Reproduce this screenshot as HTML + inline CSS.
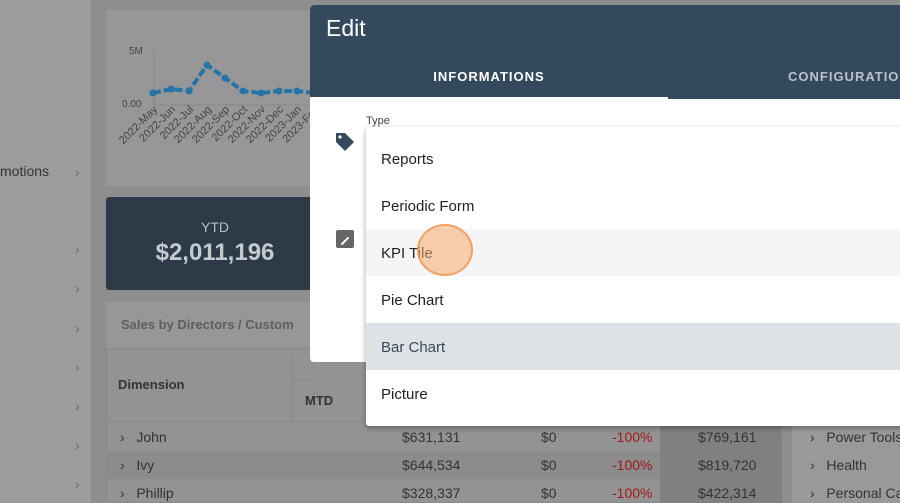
<!DOCTYPE html>
<html><head><style>
*{margin:0;padding:0;box-sizing:border-box}
body{width:900px;height:503px;overflow:hidden;position:relative;background:#8e8e8e;font-family:"Liberation Sans",sans-serif}
.a{position:absolute}
.side{left:0;top:0;width:91px;height:503px;background:#9b9c9e}
.chev{color:#6d6d6d;font-size:14px}
.t{color:#333;font-size:14px}
</style></head><body>
<div class="a side"></div>
<div class="a t" style="left:0;top:163px;color:#333;font-size:14px">motions</div>
<div class="a chev" style="left:75px;top:164px">›</div>
<div class="a chev" style="left:75px;top:241px">›</div>
<div class="a chev" style="left:75px;top:280px">›</div>
<div class="a chev" style="left:75px;top:320px">›</div>
<div class="a chev" style="left:75px;top:359px">›</div>
<div class="a chev" style="left:75px;top:398px">›</div>
<div class="a chev" style="left:75px;top:437px">›</div>
<div class="a chev" style="left:75px;top:476px">›</div>
<!-- chart card -->
<div class="a" style="left:106px;top:10px;width:220px;height:176px;background:#979797"></div>
<svg class="a" style="left:106px;top:10px" width="210" height="150">
<text x="23" y="44" font-size="10" fill="#444" font-family="Liberation Sans">5M</text>
<text x="16" y="97" font-size="10" fill="#444" font-family="Liberation Sans">0.00</text>
<line x1="48" y1="40" x2="48" y2="95" stroke="#888"/>
<line x1="48" y1="95" x2="210" y2="95" stroke="#888"/>
<polyline points="47,83 65,79 83,81 101,55 119,68 137,81 155,83 173,81 191,81 209,83" fill="none" stroke="#2474a8" stroke-width="4" stroke-dasharray="8,3"/>
<g fill="#2474a8"><circle cx="47" cy="83" r="3.5"/><circle cx="65" cy="79" r="3.5"/><circle cx="83" cy="81" r="3.5"/><circle cx="101" cy="55" r="3.5"/><circle cx="119" cy="68" r="3.5"/><circle cx="137" cy="81" r="3.5"/><circle cx="155" cy="83" r="3.5"/><circle cx="173" cy="81" r="3.5"/><circle cx="191" cy="81" r="3.5"/></g>
<g font-size="11" fill="#444" font-family="Liberation Sans" text-anchor="end">
<text transform="translate(52,100) rotate(-45)">2022-May</text>
<text transform="translate(70,100) rotate(-45)">2022-Jun</text>
<text transform="translate(88,100) rotate(-45)">2022-Jul</text>
<text transform="translate(106,100) rotate(-45)">2022-Aug</text>
<text transform="translate(124,100) rotate(-45)">2022-Sep</text>
<text transform="translate(142,100) rotate(-45)">2022-Oct</text>
<text transform="translate(160,100) rotate(-45)">2022-Nov</text>
<text transform="translate(178,100) rotate(-45)">2022-Dec</text>
<text transform="translate(196,100) rotate(-45)">2023-Jan</text>
<text transform="translate(214,100) rotate(-45)">2023-Feb</text>
</g></svg>
<!-- KPI -->
<div class="a" style="left:106px;top:197px;width:220px;height:93px;background:#2d3a48;border-radius:3px"></div>
<div class="a" style="left:106px;top:219px;width:218px;text-align:center;color:#b8bec4;font-size:14px">YTD</div>
<div class="a" style="left:106px;top:239px;width:218px;text-align:center;color:#c5cacf;font-size:24px;font-weight:bold">$2,011,196</div>
<!-- sales card -->
<div class="a" style="left:106px;top:302px;width:220px;height:46px;background:#979797"></div>
<div class="a" style="left:121px;top:317px;color:#5e5e5e;font-size:13px;font-weight:bold;white-space:nowrap">Sales by Directors / Custom</div>
<div class="a" style="left:106px;top:348px;width:676px;height:155px;background:#939393;border:1px solid #888"></div>
<div class="a" style="left:118px;top:377px;color:#333;font-size:13px;font-weight:bold">Dimension</div>
<div class="a" style="left:292px;top:356px;width:1px;height:66px;background:#888"></div>
<div class="a" style="left:292px;top:380px;width:20px;height:1px;background:#888"></div>
<div class="a" style="left:305px;top:393px;color:#333;font-size:13px;font-weight:bold">MTD</div>
<div class="a" style="left:106px;top:421px;width:676px;height:1px;background:#888"></div>
<div class="a" style="left:106px;top:451px;width:676px;height:28px;background:#8c8c8c"></div>
<div class="a" style="left:660px;top:426px;width:122px;height:77px;background:#808080"></div>
<div class="a" style="left:792px;top:426px;width:108px;height:77px;background:#999"></div>
<div class="a t" style="left:120px;top:429px">›&nbsp;&nbsp; John</div>
<div class="a t" style="left:120px;top:457px">›&nbsp;&nbsp; Ivy</div>
<div class="a t" style="left:120px;top:485px">›&nbsp;&nbsp; Phillip</div>
<div class="a t" style="left:402px;top:429px">$631,131</div>
<div class="a t" style="left:402px;top:457px">$644,534</div>
<div class="a t" style="left:402px;top:485px">$328,337</div>
<div class="a t" style="left:541px;top:429px">$0</div>
<div class="a t" style="left:541px;top:457px">$0</div>
<div class="a t" style="left:541px;top:485px">$0</div>
<div class="a t" style="left:612px;top:429px;color:#a01818">-100%</div>
<div class="a t" style="left:612px;top:457px;color:#a01818">-100%</div>
<div class="a t" style="left:612px;top:485px;color:#a01818">-100%</div>
<div class="a t" style="left:698px;top:429px">$769,161</div>
<div class="a t" style="left:698px;top:457px">$819,720</div>
<div class="a t" style="left:698px;top:485px">$422,314</div>
<div class="a t" style="left:810px;top:429px;white-space:nowrap">›&nbsp;&nbsp; Power Tools</div>
<div class="a t" style="left:810px;top:457px">›&nbsp;&nbsp; Health</div>
<div class="a t" style="left:810px;top:485px;white-space:nowrap">›&nbsp;&nbsp; Personal Ca</div>
<!-- modal -->
<div class="a" style="left:310px;top:5px;width:600px;height:357px;background:#fff;border-radius:4px 0 0 4px"></div>
<div class="a" style="left:310px;top:5px;width:600px;height:94px;background:#34495e;border-radius:4px 0 0 0"></div>
<div class="a" style="left:326px;top:15px;color:#fff;font-size:23px">Edit</div>
<div class="a" style="left:310px;top:69px;width:358px;text-align:center;color:#fff;font-size:13px;font-weight:bold;letter-spacing:1px">INFORMATIONS</div>
<div class="a" style="left:788px;top:69px;color:#b9c2cc;font-size:13px;font-weight:bold;letter-spacing:1px;white-space:nowrap">CONFIGURATIONS</div>
<div class="a" style="left:310px;top:97px;width:358px;height:2px;background:#fff"></div>
<div class="a" style="left:366px;top:115px;color:#444;font-size:11px">Type</div>
<svg class="a" style="left:334px;top:131px" width="22" height="22"><path d="M2 2h9l9 9-9 9-9-9z" fill="#34495e"/><circle cx="6" cy="6" r="1.6" fill="#fff"/></svg>
<div class="a" style="left:336px;top:230px;width:18px;height:18px;background:#666;border-radius:2px"></div>
<div class="a" style="left:340px;top:240px;width:10px;height:2px;background:#fff;transform:rotate(-45deg)"></div>
<!-- dropdown -->
<div class="a" style="left:366px;top:127px;width:540px;height:299px;background:#fff;box-shadow:0 2px 6px rgba(0,0,0,.35);border-radius:3px"></div>
<div class="a" style="left:366px;top:229px;width:534px;height:47px;background:#f5f5f5"></div>
<div class="a" style="left:366px;top:323px;width:534px;height:47px;background:#dfe2e5"></div>
<div class="a" style="left:381px;top:151px;font-size:15px;color:#222">Reports</div>
<div class="a" style="left:381px;top:198px;font-size:15px;color:#222">Periodic Form</div>
<div class="a" style="left:381px;top:245px;font-size:15px;color:#222">KPI Tile</div>
<div class="a" style="left:381px;top:292px;font-size:15px;color:#222">Pie Chart</div>
<div class="a" style="left:381px;top:339px;font-size:15px;color:#34495e">Bar Chart</div>
<div class="a" style="left:381px;top:386px;font-size:15px;color:#222">Picture</div>
<div class="a" style="left:417px;top:224px;width:56px;height:52px;border-radius:50%;background:rgba(246,170,110,.55);border:2px solid rgba(240,150,80,.8)"></div>
</body></html>
